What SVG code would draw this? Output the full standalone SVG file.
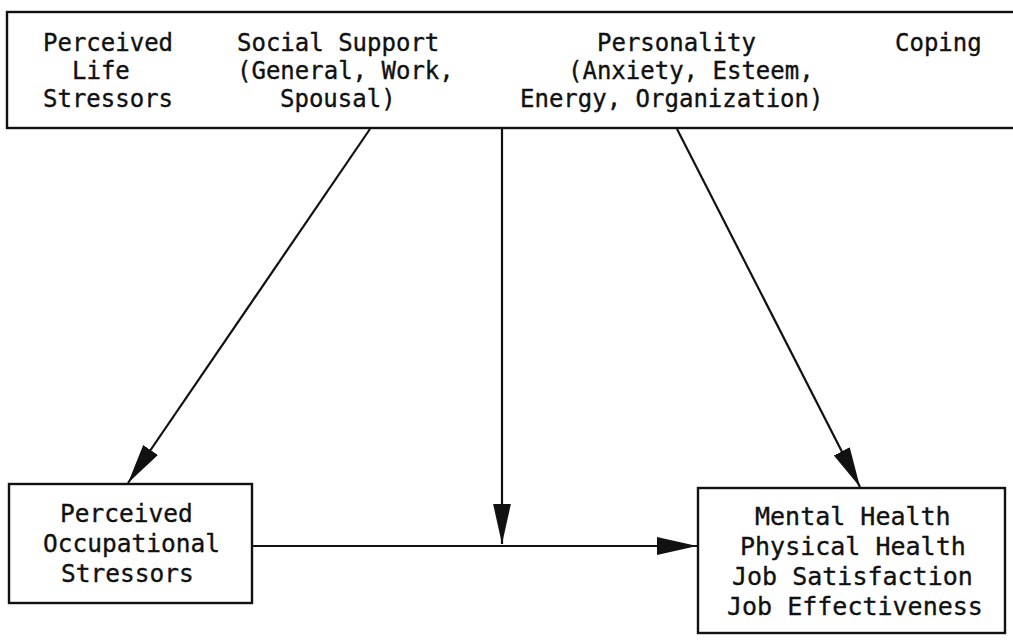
<svg xmlns="http://www.w3.org/2000/svg" width="1013" height="640" viewBox="0 0 1013 640">
  <style>
    .box { fill: #fff; stroke: #111; stroke-width: 2.4; }
    .t, .t2, .t3 { font-family: "DejaVu Sans Mono", "Liberation Mono", monospace; fill: #111; stroke: #111; stroke-width: 0.35; }
    .t { font-size: 24px; }
    .t2 { font-size: 24.5px; }
    .t3 { font-size: 25px; }
    .link { stroke: #111; stroke-width: 2.2; fill: none; marker-end: url(#arrow); }
  </style>
  <defs>
    <marker id="arrow" markerUnits="userSpaceOnUse" markerWidth="40" markerHeight="24" viewBox="0 0 36 16" refX="36" refY="8" orient="auto">
      <path d="M0,0 L36,8 L0,16 Z" fill="#111"/>
    </marker>
  </defs>
  <rect width="1013" height="640" fill="#fff"/>

  <!-- antecedent / moderator variables -->
  <g id="moderators">
    <rect class="box" x="7" y="12" width="1015" height="116"/>
    <text class="t" x="43" y="51">Perceived</text>
    <text class="t" x="72" y="79">Life</text>
    <text class="t" x="43" y="107">Stressors</text>
    <text class="t" x="237" y="51">Social Support</text>
    <text class="t" x="237" y="79">(General, Work,</text>
    <text class="t" x="280" y="107">Spousal)</text>
    <text class="t" x="597" y="51">Personality</text>
    <text class="t" x="568" y="79">(Anxiety, Esteem,</text>
    <text class="t" x="520" y="107">Energy, Organization)</text>
    <text class="t" x="895" y="51">Coping</text>
  </g>

  <!-- stressor node -->
  <g id="occupational-stressors">
    <rect class="box" x="9" y="484" width="243" height="119"/>
    <text class="t2" x="60" y="522">Perceived</text>
    <text class="t2" x="43" y="552">Occupational</text>
    <text class="t2" x="61" y="582">Stressors</text>
  </g>

  <!-- outcome node -->
  <g id="outcomes">
    <rect class="box" x="698" y="488" width="307" height="145"/>
    <text class="t3" x="755" y="525">Mental Health</text>
    <text class="t3" x="740" y="555">Physical Health</text>
    <text class="t3" x="732" y="585">Job Satisfaction</text>
    <text class="t3" x="727" y="615">Job Effectiveness</text>
  </g>

  <!-- connectors -->
  <g id="connectors">
    <line class="link" x1="370" y1="129" x2="128" y2="483"/>
    <line class="link" x1="502" y1="129" x2="502" y2="544"/>
    <line class="link" x1="677" y1="129" x2="860" y2="487"/>
    <line class="link" x1="252" y1="546" x2="697" y2="546"/>
  </g>
</svg>
